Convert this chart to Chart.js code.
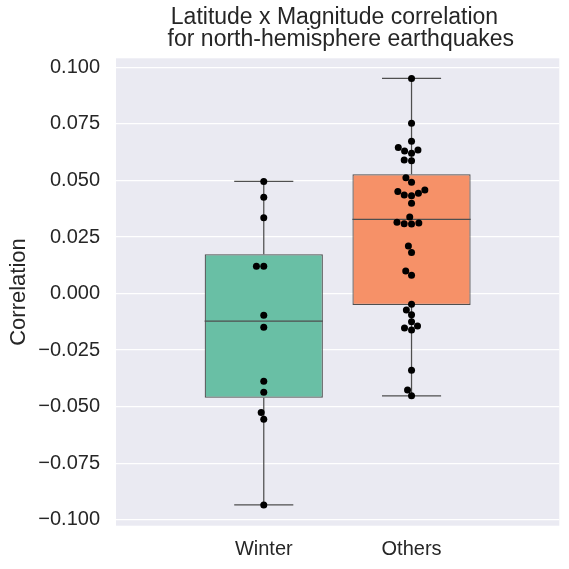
<!DOCTYPE html>
<html>
<head>
<meta charset="utf-8">
<script src="https://cdn.jsdelivr.net/npm/chart.js@4.4.1/dist/chart.umd.min.js"></script>
<style>
  html, body { margin: 0; padding: 0; background: #ffffff; }
  #chart { display: block; }
</style>
</head>
<body>
<canvas id="chart" width="569" height="569"></canvas>
<script>
// ---------------- data ----------------
const categories = ['Winter', 'Others'];

const winterValues = [0.0496, 0.0426, 0.0335, 0.0121, 0.0121, -0.0096, -0.0149,
  -0.0388, -0.0436, -0.0526, -0.0555, -0.0934];

const othersValues = [0.0951, 0.0753, 0.0673, 0.0646, 0.0635, 0.0630, 0.0620, 0.0590,
  0.0587, 0.0512, 0.0492, 0.0458, 0.0451, 0.0443, 0.0436, 0.0432, 0.0399, 0.0338,
  0.0315, 0.0312, 0.0309, 0.0308, 0.0210, 0.0182, 0.0100, 0.0081, -0.0047, -0.0072,
  -0.0094, -0.0125, -0.0143, -0.0152, -0.0161, -0.0339, -0.0426, -0.0452];

const q1Values = [-0.0460, -0.0050];
const medianValues = [-0.0122, 0.0328];
const q3Values = [0.0174, 0.0527];
const whiskerLowValues = [-0.0934, -0.0452];
const whiskerHighValues = [0.0496, 0.0951];

const yTickValues = [-0.1, -0.075, -0.05, -0.025, 0, 0.025, 0.05, 0.075, 0.1];

const titleLines = ['Latitude x Magnitude correlation ', ' for north-hemisphere earthquakes'];
const yAxisLabel = 'Correlation';

// ---------------- styles ----------------
const boxColors = ['#69bfa5', '#f69168'];
const lineColor = '#4f4f4f';
const textColor = '#262626';
const FONT = "'Liberation Sans', Arial, Helvetica, sans-serif";
const BOX_HALF = 0.4;
const CAP_HALF = 0.2;
const DOT_R = 3.5;

const seriesValues = [winterValues, othersValues];

// whiskers + caps
const whiskerData = [];
const medianData = [];
categories.forEach((c, i) => {
  whiskerData.push({x: i, y: q3Values[i]}, {x: i, y: whiskerHighValues[i]}, {x: i, y: null});
  whiskerData.push({x: i, y: q1Values[i]}, {x: i, y: whiskerLowValues[i]}, {x: i, y: null});
  whiskerData.push({x: i - CAP_HALF, y: whiskerHighValues[i]}, {x: i + CAP_HALF, y: whiskerHighValues[i]}, {x: i, y: null});
  whiskerData.push({x: i - CAP_HALF, y: whiskerLowValues[i]}, {x: i + CAP_HALF, y: whiskerLowValues[i]}, {x: i, y: null});
  medianData.push({x: i - BOX_HALF, y: medianValues[i]}, {x: i + BOX_HALF, y: medianValues[i]}, {x: i, y: null});
});

const boxData = categories.map((c, i) => ({x: i, y: [q1Values[i], q3Values[i]]}));

function initialPoints() {
  const pts = [];
  seriesValues.forEach((vals, i) => vals.forEach(v => pts.push({x: i, y: v})));
  return pts;
}

function fmtTick(v) {
  let s = (Math.abs(v) < 1e-9 ? 0 : v).toFixed(3);
  return s.replace('-', '\u2212');
}

const bgPlugin = {
  id: 'plotBg',
  beforeDraw(chart) {
    const {ctx, chartArea: a} = chart;
    ctx.save();
    ctx.fillStyle = '#eaeaf2';
    ctx.fillRect(a.left, a.top, a.right - a.left, a.bottom - a.top);
    ctx.restore();
  }
};

const chart = new Chart(document.getElementById('chart'), {
  type: 'bar',
  data: {
    datasets: [
      {
        type: 'scatter',
        data: initialPoints(),
        pointRadius: DOT_R,
        pointHoverRadius: DOT_R,
        pointBackgroundColor: '#000000',
        pointBorderWidth: 0,
        borderWidth: 0,
        showLine: false,
        order: 0
      },
      {
        type: 'line',
        data: medianData,
        borderColor: lineColor,
        borderWidth: 1.25,
        pointRadius: 0,
        spanGaps: false,
        fill: false,
        order: 1
      },
      {
        type: 'bar',
        data: boxData,
        backgroundColor: boxColors,
        borderColor: lineColor,
        borderWidth: 1.25,
        borderSkipped: false,
        barPercentage: 0.8,
        categoryPercentage: 1.0,
        order: 2
      },
      {
        type: 'line',
        data: whiskerData,
        borderColor: lineColor,
        borderWidth: 1.25,
        pointRadius: 0,
        spanGaps: false,
        fill: false,
        order: 3
      }
    ]
  },
  options: {
    responsive: false,
    animation: false,
    devicePixelRatio: 1,
    layout: { padding: { left: 0, right: 9.7, top: 0, bottom: 0 } },
    plugins: {
      legend: { display: false },
      tooltip: { enabled: false },
      title: {
        display: true,
        fullSize: false,
        text: titleLines,
        color: textColor,
        font: { family: FONT, size: 23, weight: 'normal', lineHeight: 0.935 },
        padding: { top: 7.3, bottom: 8 }
      }
    },
    scales: {
      x: {
        type: 'linear',
        min: -1,
        max: 2,
        offset: false,
        grid: { display: false, drawTicks: false },
        border: { display: false },
        afterBuildTicks: (scale) => { scale.ticks = categories.map((c, i) => ({value: i})); },
        afterFit: (scale) => { scale.height = 43.3; },
        ticks: {
          autoSkip: false,
          maxRotation: 0,
          padding: 12,
          color: textColor,
          font: { family: FONT, size: 20 },
          callback: (v, idx) => categories[idx]
        }
      },
      y: {
        type: 'linear',
        min: -0.1026,
        max: 0.1040,
        grid: { color: '#ffffff', lineWidth: 1.3, drawTicks: false },
        border: { display: false },
        afterBuildTicks: (scale) => { scale.ticks = yTickValues.map(v => ({value: v})); },
        afterFit: (scale) => { scale.width = 116; },
        ticks: {
          padding: 16,
          color: textColor,
          font: { family: FONT, size: 20 },
          callback: (v) => fmtTick(v)
        },
        title: {
          display: true,
          text: yAxisLabel,
          color: textColor,
          font: { family: FONT, size: 22, lineHeight: 1.2 },
          padding: { top: 6, bottom: 0 }
        }
      }
    }
  },
  plugins: [bgPlugin]
});

// ---------------- beeswarm layout (seaborn-style) ----------------
function swarmX(values, centerPx, yScale, r) {
  const pts = values.map((v, k) => ({k, y: yScale.getPixelForValue(v)}));
  const order = pts.slice().sort((a, b) => (b.y - a.y) || (a.k - b.k)); // ascending value
  const placed = [];
  const out = new Array(values.length);
  order.forEach((p, idx) => {
    if (idx === 0) { placed.push({x: centerPx, y: p.y}); out[p.k] = centerPx; return; }
    const neighbors = placed.filter(q => Math.abs(p.y - q.y) < 2 * r);
    const cands = [centerPx];
    let leftFirst = true;
    neighbors.forEach(q => {
      const dy = p.y - q.y;
      const dx = Math.sqrt(Math.max(4 * r * r - dy * dy, 0)) * 1.05;
      if (leftFirst) cands.push(q.x - dx, q.x + dx); else cands.push(q.x + dx, q.x - dx);
      leftFirst = !leftFirst;
    });
    const sorted = cands.map((x, i) => ({x, i}))
      .sort((a, b) => (Math.abs(a.x - centerPx) - Math.abs(b.x - centerPx)) || (a.i - b.i));
    let chosen = sorted[sorted.length - 1].x;
    for (const c of sorted) {
      const ok = neighbors.every(q => ((c.x - q.x) ** 2 + (p.y - q.y) ** 2) >= (2 * r) ** 2 - 1e-6);
      if (ok) { chosen = c.x; break; }
    }
    placed.push({x: chosen, y: p.y});
    out[p.k] = chosen;
  });
  return out;
}

(function applySwarm() {
  const xs = chart.scales.x, ys = chart.scales.y;
  const pts = [];
  seriesValues.forEach((vals, i) => {
    const cx = xs.getPixelForValue(i);
    const px = swarmX(vals, cx, ys, DOT_R);
    vals.forEach((v, k) => pts.push({x: xs.getValueForPixel(px[k]), y: v}));
  });
  chart.data.datasets[0].data = pts;
  chart.update('none');
})();
</script>
</body>
</html>
